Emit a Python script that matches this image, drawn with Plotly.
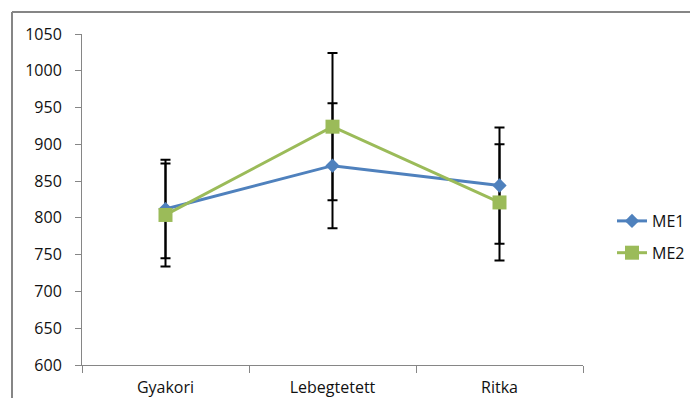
import plotly.graph_objects as go

categories = ["Gyakori", "Lebegtetett", "Ritka"]
me1_values = [812, 871, 844]
me1_err = [67, 85, 79]
me2_values = [804, 924, 821]
me2_err = [70, 100, 79]
y_ticks = [600, 650, 700, 750, 800, 850, 900, 950, 1000, 1050]

FONT = "Open Sans"
O = 8  # body margin of the html page
W, H = 698 - 2 * O, 406 - 2 * O
# plot area in page pixels
L_P, R_P, T_P, B_P = 82, 583, 34, 365
L, R, T, B = L_P - O, R_P - O, T_P - O, B_P - O

fig = go.Figure()

# error bars first (below markers)
for vals, err in [(me1_values, me1_err), (me2_values, me2_err)]:
    fig.add_trace(go.Scatter(
        x=categories, y=vals, mode="markers",
        marker=dict(size=1, opacity=0),
        error_y=dict(type="data", array=err, visible=True, color="black", thickness=2, width=5),
        showlegend=False, hoverinfo="skip"))

fig.add_trace(go.Scatter(
    x=categories, y=me1_values, name="ME1", mode="lines+markers",
    line=dict(color="#4F81BD", width=3),
    marker=dict(symbol="diamond", size=11, color="#4F81BD"),
    legendgroup="a"))
fig.add_trace(go.Scatter(
    x=categories, y=me2_values, name="ME2", mode="lines+markers",
    line=dict(color="#9BBB59", width=3),
    marker=dict(symbol="square", size=14, color="#9BBB59"),
    legendgroup="b"))

def px_x(page_px):
    return (page_px - L_P) / (R_P - L_P)

def px_y(page_py):
    return (B_P - page_py) / (B_P - T_P)

fig.update_layout(
    width=W, height=H,
    margin=dict(l=L, r=W - R, t=T, b=H - B, pad=0, autoexpand=False),
    paper_bgcolor="white", plot_bgcolor="white",
    font=dict(family=FONT, size=16, color="#111111"),
    showlegend=True,
    legend=dict(x=px_x(612), y=px_y(237), xanchor="left", yanchor="middle",
                traceorder="grouped", tracegroupgap=8,
                font=dict(family=FONT, size=16), bgcolor="rgba(0,0,0,0)"),
    xaxis=dict(type="category", showgrid=False, showline=True, linecolor="#868686", linewidth=1,
               ticks="outside", tickson="boundaries", ticklen=7, tickcolor="#868686",
               ticklabelstandoff=8, range=[-0.5, 2.5], zeroline=False, automargin=False),
    yaxis=dict(range=[600, 1050], tickvals=y_ticks, showgrid=False, showline=True,
               linecolor="#868686", linewidth=1, ticks="outside", ticklen=6,
               tickcolor="#868686", ticklabelstandoff=10, zeroline=False, automargin=False),
    shapes=[
        dict(type="line", xref="paper", yref="paper", x0=px_x(12), x1=px_x(12),
             y0=px_y(12), y1=px_y(420), line=dict(color="#868686", width=2)),
        dict(type="line", xref="paper", yref="paper", x0=px_x(12), x1=px_x(720),
             y0=px_y(12), y1=px_y(12), line=dict(color="#868686", width=2)),
    ],
)

fig.write_html("out.html")
